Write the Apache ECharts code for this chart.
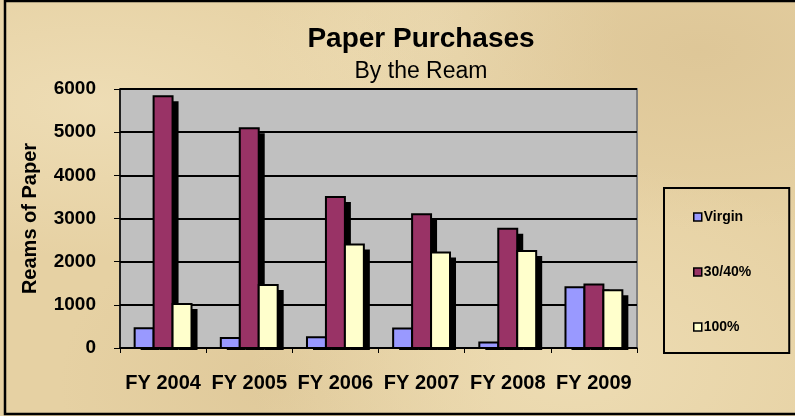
<!DOCTYPE html>
<html>
<head>
<meta charset="utf-8">
<script src="https://cdn.jsdelivr.net/npm/echarts@6/dist/echarts.min.js"></script>
<style>
  html, body { margin: 0; padding: 0; }
  #main {
    width: 795px; height: 416px;
    background-color: #e6d1a3;
    background-image:
      radial-gradient(ellipse at 12% 25%, rgba(244,230,195,0.55), rgba(244,230,195,0) 35%),
      radial-gradient(ellipse at 72% 88%, rgba(243,229,192,0.55), rgba(243,229,192,0) 40%),
      radial-gradient(ellipse at 88% 12%, rgba(212,186,138,0.45), rgba(212,186,138,0) 35%),
      radial-gradient(ellipse at 35% 92%, rgba(214,190,142,0.4), rgba(214,190,142,0) 30%),
      radial-gradient(ellipse at 55% 8%, rgba(240,226,190,0.5), rgba(240,226,190,0) 30%);
  }
</style>
</head>
<body>
<div id="main"></div>
<script>
// 数据
var years = ['FY 2004', 'FY 2005', 'FY 2006', 'FY 2007', 'FY 2008', 'FY 2009'];
var virgin = [460, 230, 250, 450, 130, 1410];
var recycled3040 = [5830, 5090, 3500, 3100, 2760, 1470];
var recycled100 = [1020, 1460, 2400, 2210, 2250, 1340];

var seriesNames = ['Virgin', '30/40%', '100%'];
var colorList = ['#9999ff', '#993366', '#ffffcc'];

// 柱子 + 黑色投影（Excel 风格）
function makeRender(k) {
    return function (params, api) {
        var base = api.coord([api.value(0), 0]);
        var top = api.coord([api.value(0), api.value(1)]);
        var band = api.size([1, 0])[0];
        var barW = band * 0.22;
        var x = base[0] - 1.5 * barW + k * barW;
        var h = base[1] - top[1];
        return {
            type: 'group',
            children: [{
                type: 'rect',
                shape: { x: x + 6, y: top[1] + 5, width: barW, height: h - 3 },
                style: { fill: '#000' }
            }, {
                type: 'rect',
                shape: { x: x, y: top[1], width: barW, height: h },
                style: { fill: colorList[k], stroke: '#000', lineWidth: 2 }
            }]
        };
    };
}

function barSeries(k, values) {
    return {
        name: seriesNames[k],
        type: 'custom',
        renderItem: makeRender(k),
        itemStyle: { color: colorList[k] },
        encode: { x: 0, y: 1 },
        data: values.map(function (v, i) { return [i, v]; })
    };
}

var option = {
    animation: false,
    textStyle: { fontFamily: 'Arial, "Liberation Sans", sans-serif', color: '#000' },
    title: [{
        text: 'Paper Purchases',
        left: 416, top: 20, textAlign: 'center',
        textStyle: { fontSize: 28, fontWeight: 'bold', color: '#000' }
    }, {
        text: 'By the Ream',
        left: 416, top: 55, textAlign: 'center',
        textStyle: { fontSize: 23, fontWeight: 'normal', color: '#000' }
    }],
    legend: {
        orient: 'vertical',
        left: 664, top: 188,
        padding: [22, 38, 19, 29],
        itemGap: 41,
        itemWidth: 8, itemHeight: 8,
        icon: 'rect',
        borderColor: '#000', borderWidth: 2,
        itemStyle: { borderColor: '#000', borderWidth: 1.5 },
        textStyle: { fontSize: 14, fontWeight: 'bold', color: '#000', padding: [0, 0, 0, -3] },
        data: seriesNames
    },
    grid: {
        left: 120, top: 89, right: 158, bottom: 68,
        show: true,
        backgroundColor: '#c0c0c0',
        borderColor: '#808080',
        borderWidth: 2
    },
    xAxis: {
        type: 'category',
        data: years,
        axisLine: { lineStyle: { color: '#000', width: 1.5 } },
        axisTick: { show: true, length: 5, lineStyle: { color: '#000' } },
        axisLabel: { interval: 0, fontSize: 20, fontWeight: 'bold', color: '#000', margin: 25 }
    },
    yAxis: {
        type: 'value',
        min: 0, max: 6000, interval: 1000,
        name: 'Reams of Paper',
        nameLocation: 'middle',
        nameGap: 80,
        nameRotate: 90,
        nameTextStyle: { fontSize: 20, fontWeight: 'bold', color: '#000' },
        axisLine: { show: true, lineStyle: { color: '#000', width: 1.5 } },
        axisTick: { show: true, length: 6, lineStyle: { color: '#000' } },
        axisLabel: {
            fontSize: 19, fontWeight: 'bold', color: '#000', margin: 24,
            formatter: function (v) { return String(v); }
        },
        splitLine: { lineStyle: { color: '#000', width: 2 } }
    },
    graphic: [{
        type: 'rect',
        shape: { x: 5, y: 1, width: 800, height: 413 },
        style: { fill: 'none', stroke: '#000', lineWidth: 2.5 },
        silent: true
    }],
    series: [
        barSeries(0, virgin),
        barSeries(1, recycled3040),
        barSeries(2, recycled100)
    ]
};

var chart = echarts.init(document.getElementById('main'));
chart.setOption(option);
</script>
</body>
</html>
